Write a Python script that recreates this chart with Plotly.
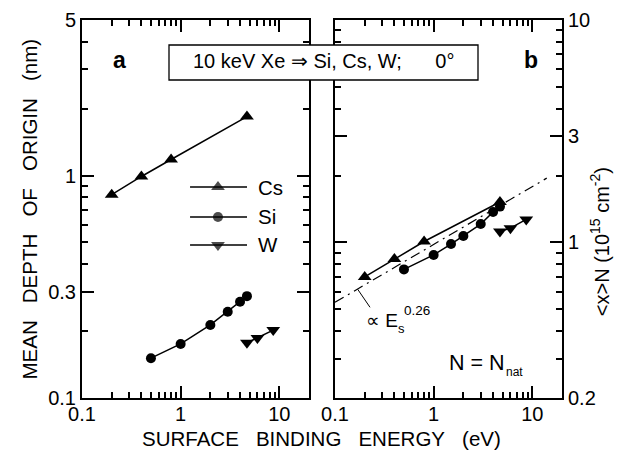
import math
import plotly.graph_objects as go

W, H = 619, 455
FONT = "Liberation Sans, Arial, Helvetica, sans-serif"

# ---- panel a: mean depth of origin (nm) vs surface binding energy (eV)
cs_es_a = [0.2, 0.4, 0.8, 4.7]
cs_depth = [0.82, 0.99, 1.18, 1.84]
si_es_a = [0.5, 1, 2, 3, 4, 4.7]
si_depth = [0.151, 0.175, 0.213, 0.244, 0.271, 0.287]
w_es_a = [4.7, 6, 8.68]
w_depth = [0.177, 0.186, 0.202]

# ---- panel b: <x>N (1e15 cm^-2) vs surface binding energy (eV)
cs_es_b = [0.2, 0.4, 0.8, 4.7]
cs_xn = [0.70, 0.843, 1.01, 1.52]
si_es_b = [0.5, 1, 1.5, 2, 3, 4, 4.7]
si_xn = [0.757, 0.879, 0.984, 1.07, 1.21, 1.37, 1.45]
w_es_b = [4.7, 6, 8.68]
w_xn = [1.12, 1.16, 1.27]

# power-law guide  <x>N ∝ Es^0.26
fit_prefactor = 0.98
fit_exponent = 0.26
fit_es = [0.1, 14.0]

# ---- tick definitions
x_major = [0.1, 1, 10]
x_major_text = ["0.1", "1", "10"]
x_minor = [0.2, 0.3, 0.4, 0.5, 0.6, 0.7, 0.8, 0.9, 2, 3, 4, 5, 6, 7, 8, 9]
ya_major = [0.1, 0.3, 1, 5]
ya_major_text = ["0.1", "0.3", "1", "5"]
ya_minor = [0.2, 0.4, 0.5, 0.6, 0.7, 0.8, 0.9, 2, 3, 4]
yb_major = [0.2, 1, 3, 10]
yb_major_text = ["0.2", "1", "3", "10"]
yb_minor = [0.3, 0.4, 0.5, 0.6, 0.7, 0.8, 0.9, 2, 4, 5, 6, 7, 8, 9]

species = ["Cs", "Si", "W"]
symbols = {"Cs": "triangle-up", "Si": "circle", "W": "triangle-down"}
marker_size = {"Cs": 12, "Si": 10, "W": 12}


def px(x):
    return x / W


def py(y):
    return 1 - y / H


fig = go.Figure()

line_style = dict(color="black", width=1.5)


def add_series(xs, ys, sp, xa, ya):
    fig.add_trace(go.Scatter(
        x=xs, y=ys, mode="lines+markers", xaxis=xa, yaxis=ya,
        line=line_style,
        marker=dict(symbol=symbols[sp], size=marker_size[sp], color="black",
                    line=dict(width=0)),
        showlegend=False, hoverinfo="skip"))


add_series(cs_es_a, cs_depth, "Cs", "x", "y")
add_series(si_es_a, si_depth, "Si", "x", "y")
add_series(w_es_a, w_depth, "W", "x", "y")

fig.add_trace(go.Scatter(
    x=fit_es, y=[fit_prefactor * e ** fit_exponent for e in fit_es],
    mode="lines", xaxis="x2", yaxis="y2",
    line=dict(color="black", width=1.2, dash="10px,5px,2px,5px"),
    showlegend=False, hoverinfo="skip"))
add_series(cs_es_b, cs_xn, "Cs", "x2", "y2")
add_series(si_es_b, si_xn, "Si", "x2", "y2")
add_series(w_es_b, w_xn, "W", "x2", "y2")

# legend keys drawn in panel-a fractional coordinates (overlay axes x3/y3)
key_x = [0.476, 0.599, 0.727]
key_y = {"Cs": 0.558, "Si": 0.479, "W": 0.405}
for sp in species:
    fig.add_trace(go.Scatter(
        x=key_x, y=[key_y[sp]] * 3, mode="lines+markers",
        xaxis="x3", yaxis="y3", line=line_style,
        marker=dict(symbol=symbols[sp], size=[0, marker_size[sp], 0],
                    color="black", line=dict(width=0)),
        showlegend=False, hoverinfo="skip"))

tick_font = dict(family=FONT, size=20, color="black")


def log_axis(rng, major, major_text, minor, domain, **kw):
    d = dict(
        type="log", range=rng, domain=domain, automargin=False,
        showline=True, linecolor="black", linewidth=2, mirror="ticks",
        ticks="inside", ticklen=12, tickwidth=1.5, tickcolor="black",
        tickmode="array", tickvals=major, ticktext=major_text,
        tickfont=tick_font, showgrid=False, zeroline=False,
        minor=dict(ticks="inside", ticklen=6, tickwidth=1.5,
                   tickcolor="black", tickmode="array", tickvals=minor,
                   showgrid=False),
    )
    d.update(kw)
    return d


y_dom = [py(398), py(20)]
x_rng = [-1, math.log10(20)]

fig.update_layout(
    width=W, height=H, autosize=False,
    margin=dict(l=0, r=0, t=0, b=0, pad=0, autoexpand=False),
    paper_bgcolor="white", plot_bgcolor="white",
    font=dict(family=FONT, color="black"),
    xaxis=log_axis(x_rng, x_major, x_major_text, x_minor,
                   [px(82), px(309)], anchor="y", ticklabelstandoff=-3),
    yaxis=log_axis([-1, math.log10(5)], ya_major, ya_major_text, ya_minor,
                   y_dom, anchor="x"),
    xaxis2=log_axis(x_rng, x_major, x_major_text, x_minor,
                    [px(335), px(562)], anchor="y2", ticklabelstandoff=-3),
    yaxis2=log_axis([math.log10(0.2), 1], yb_major, yb_major_text, yb_minor,
                    y_dom, anchor="x2", side="right"),
    xaxis3=dict(overlaying="x", range=[0, 1], visible=False, anchor="y3",
                automargin=False),
    yaxis3=dict(overlaying="y", range=[0, 1], visible=False, anchor="x3",
                automargin=False),
)

# headline box
fig.add_shape(type="rect", xref="paper", yref="paper",
              x0=px(169), x1=px(478), y0=py(80), y1=py(45),
              fillcolor="white", line=dict(color="black", width=1.3),
              layer="above")
# leader line to the power-law guide
fig.add_shape(type="line", xref="paper", yref="paper",
              x0=px(357.7), y0=py(289.3), x1=px(370), y1=py(307.3),
              line=dict(color="black", width=1), layer="above")

NB = "\u00a0"
gap = NB * 3


def note(text, x, y, size=20, xanchor="center", yanchor="middle",
         xref="paper", yref="paper", angle=0, bold=False):
    if bold:
        text = "<b>" + text + "</b>"
    fig.add_annotation(text=text, x=x, y=y, xref=xref, yref=yref,
                       xanchor=xanchor, yanchor=yanchor, showarrow=False,
                       textangle=angle,
                       font=dict(family=FONT, size=size, color="black"))


note("10 keV Xe \u21d2 Si, Cs, W;" + NB * 6 + "0\u00b0",
     px(323.5), py(61))
note("a", px(119), py(60), size=23, bold=True)
note("b", px(531), py(60.5), size=23, bold=True)

for sp in species:
    note(sp, 0.767, key_y[sp], size=20.5, xanchor="left",
         xref="x3 domain", yref="y3 domain")

note("\u221d E", px(400), py(320.5), size=19, xanchor="right")
note("0.26", px(401.5), py(310.5), size=13.5, xanchor="left")
note("s", px(396), py(328), size=13, xanchor="left")

note("N = N", px(447), py(363), size=21.5, xanchor="left")
note("nat", px(504), py(372), size=12, xanchor="left")

note("SURFACE" + gap + "BINDING" + gap + "ENERGY" + gap + "(eV)",
     px(321.7), py(438), size=20.5)
note("MEAN" + gap + "DEPTH" + gap + "OF" + gap + "ORIGIN" + gap + "(nm)",
     px(29.5), py(209), size=20.5, angle=-90)
note("&lt;x&gt;N (10<sup>15</sup> cm<sup>-2</sup>)",
     px(599.2), py(242), size=20, angle=-90)

fig.write_html("out.html")
